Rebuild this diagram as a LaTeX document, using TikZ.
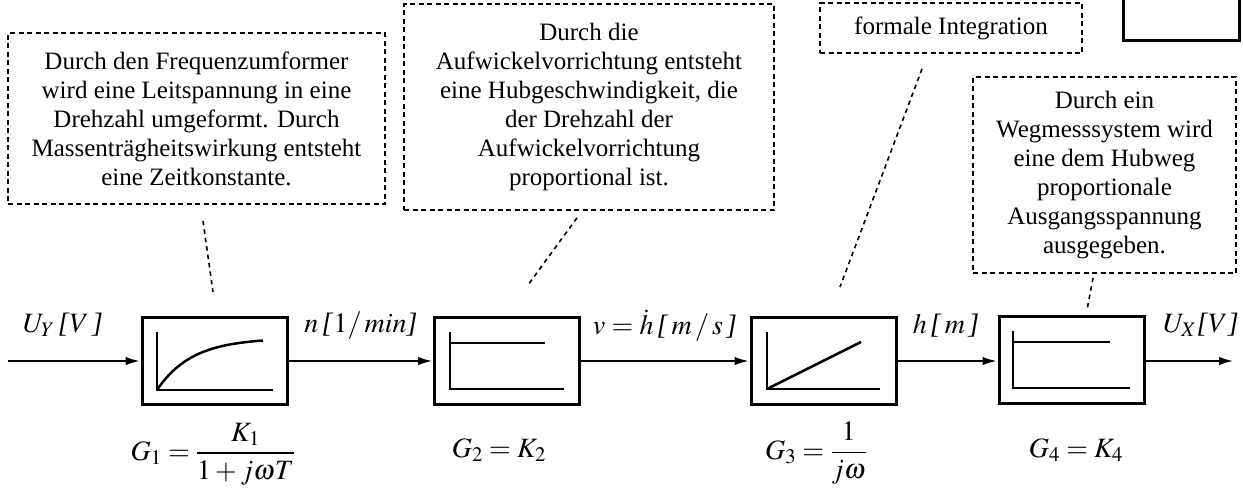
\documentclass[tikz,border=0pt]{standalone}
\usepackage{mathptmx}
\usepackage[no-math]{fontspec}
\setmainfont{Liberation Serif}
\usetikzlibrary{arrows.meta}
\newcommand{\ilb}{\textit{[}}
\newcommand{\irb}{\textit{]}}
\begin{document}
\begin{tikzpicture}[x=1pt,y=-1pt,
  blk/.style={draw,line width=3pt,minimum width=145pt,minimum height=87pt,inner sep=0pt},
  graph/.style={line width=2.5pt},
  arr/.style={line width=2.6pt,-{Latex[length=15pt,width=8.5pt]}},
  callout/.style={draw,line width=1.8pt,dash pattern=on 5pt off 3.5pt,align=center,inner sep=0pt,
    font=\fontsize{25}{29}\selectfont},
  leader/.style={line width=1.6pt,dash pattern=on 4.5pt off 4pt},
  lbl/.style={font=\fontsize{28}{32}\selectfont,inner sep=0pt},
]
\useasboundingbox (0,0) rectangle (1243,491);
% top-right solid box (cut off)
\draw[line width=3pt] (1123,-5) -- (1123,40) -- (1239,40) -- (1239,-5);
% blocks
\node[blk] (b1) at (214.5,360.5) {};
\node[blk] (b2) at (507,360.5) {};
\node[blk] (b3) at (823.5,360.5) {};
\node[blk] (b4) at (1071.5,360) {};
% connectors
\coordinate (in) at (8,361);
\coordinate (out) at (1234,361);
\draw[arr] (in) -- (in -| b1.west);
\draw[arr] (b1.east |- in) -- (b2.west |- in);
\draw[arr] (b2.east |- in) -- (b3.west |- in);
\draw[arr] (b3.east |- in) -- (b4.west |- in);
\draw[arr] (b4.east |- in) -- (out);
% signal labels
\node[lbl] (lu) at (63,325) {$U_{Y}\,$\ilb$V\,$\irb};
\node[lbl] (ln) at (361,326) {$n\,$\ilb$1/\,\mathit{min}$\irb};
\node[lbl] (lv) at (665,326) {$v=\dot h\,$\ilb$\,m\,/\,s\,$\irb};
\node[lbl] (lh) at (946,326) {$h\,$\ilb$\,m\,$\irb};
\node[lbl] (lx) at (1201,325) {$U_{X}$\ilb$V$\irb};
% transfer functions
\node[lbl] (g1) at (213,454) {$\displaystyle G_1=\frac{K_1}{1+j\omega T}$};
\node[lbl] (g2) at (499,450) {$G_2=K_2$};
\node[lbl] (g3) at (816,453) {$\displaystyle G_3=\frac{1}{j\omega}$};
\node[lbl] (g4) at (1076,450) {$G_4=K_4$};
% inner graphs
\draw[graph] (157,332) -- (157,390) -- (273,390);
\draw[graph] plot[domain=157:263,samples=40,smooth] (\x,{390-52*(1-exp(-(\x-157)/35))});
\draw[graph] (450,332) -- (450,389) -- (564,389);
\draw[graph] (450,343) -- (545,343);
\draw[graph] (767,332) -- (767,389) -- (880,389);
\draw[graph] (767,389) -- (861,342);
\draw[graph] (1013,331) -- (1013,388) -- (1130,388);
\draw[graph] (1013,342) -- (1110,342);
% callouts
\node[callout,minimum width=377pt,minimum height=171pt] (c1) at (196.5,118.5)
  {Durch den Frequenzumformer\\wird eine Leitspannung in eine\\Drehzahl umgeformt. Durch\\Massenträgheitswirkung entsteht\\eine Zeitkonstante.};
\node[callout,minimum width=370pt,minimum height=206pt] (c2) at (589,107)
  {Durch die\\Aufwickelvorrichtung entsteht\\eine Hubgeschwindigkeit, die\\der Drehzahl der\\Aufwickelvorrichtung\\proportional ist.};
\node[callout,minimum width=262pt,minimum height=50pt] (c3) at (951,28)
  {formale Integration};
\node[callout,minimum width=263pt,minimum height=196pt] (c4) at (1104.5,175)
  {Durch ein\\Wegmesssystem wird\\eine dem Hubweg\\proportionale\\Ausgangsspannung\\ausgegeben.};
% leaders
\coordinate (e1) at (213,292);
\coordinate (e2) at (528,285);
\coordinate (e3) at (840,287);
\coordinate (e4) at (1087,310);
\draw[leader] ([xshift=6.5pt,yshift=-16pt]c1.south) -- (e1);
\draw[leader] ([xshift=-12pt,yshift=-7pt]c2.south) -- (e2);
\draw[leader] ([xshift=-29pt,yshift=-15pt]c3.south) -- (e3);
\draw[leader] ([xshift=-11.5pt,yshift=-4pt]c4.south) -- (e4);
\end{tikzpicture}
\end{document}
